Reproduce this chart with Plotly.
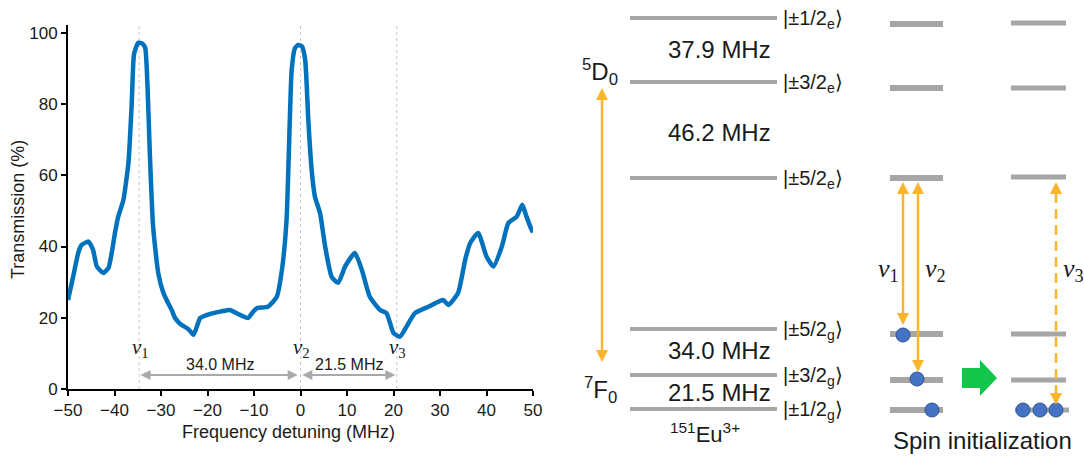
import plotly.graph_objects as go

W, H = 1084, 459

# ---------------- data (left panel) ----------------
freq = [-50, -48.9, -47.8, -47.1, -45.6, -44.6, -43.8, -42.4, -41.3, -40.6, -39.9, -39.2,
        -38.1, -37.0, -36.3, -35.8, -34.9, -34.0, -33.4, -32.9, -32.4, -31.7, -30.6, -29.5,
        -28.8, -27.7, -27.0, -25.9, -24.1, -23.0, -21.6, -20.5, -18.8, -17.0, -15.2, -13.0,
        -11.3, -10.3, -9.4, -7.0, -5.1, -4.0, -3.0, -2.3, -1.9, -1.2, -0.5, 0.3, 1.0, 1.7,
        2.4, 3.1, 4.2, 5.3, 6.7, 8.1, 9.6, 11.7, 13.2, 14.9, 17.1, 18.5, 20.0, 21.4, 22.8,
        24.6, 27.5, 30.7, 31.8, 33.9, 35.4, 36.5, 38.2, 40.0, 41.5, 43.3, 44.7, 46.5, 47.7,
        48.6, 49.7, 50.0]
trans = [25.0, 31.5, 38.2, 40.4, 41.4, 39.0, 34.4, 32.6, 34.0, 38.2, 43.8, 48.4,
         53.0, 63.5, 80.0, 94.0, 97.2, 97.0, 95.8, 85.0, 66.0, 45.6, 32.6, 27.0,
         25.0, 22.2, 20.0, 18.3, 16.8, 15.2, 19.9, 20.6, 21.3, 21.8, 22.2, 20.8,
         19.9, 21.5, 22.7, 23.1, 25.9, 33.4, 47.5, 75.6, 89.6, 95.7, 96.6, 96.2, 92.5, 75.0,
         61.5, 54.0, 49.4, 40.0, 31.5, 29.8, 34.4, 38.2, 33.4, 25.9, 22.2, 21.3, 15.7, 14.7, 17.5,
         21.3, 23.1, 25.0, 23.6, 27.0, 36.2, 41.0, 43.8, 37.2, 34.4, 40.0, 46.6, 48.4, 51.7,
         48.4, 44.7, 44.0]
x_ticks = [-50, -40, -30, -20, -10, 0, 10, 20, 30, 40, 50]
x_ticktext = ["\u221250", "\u221240", "\u221230", "\u221220", "\u221210", "0", "10", "20", "30", "40", "50"]
y_ticks = [0, 20, 40, 60, 80, 100]
nu_pos = [-34.7, 0.0, 20.7]
nu_names = ["1", "2", "3"]
gap_labels = ["34.0 MHz", "21.5 MHz"]

# ---------------- diagram content (right panel) ----------------
excited_kets = ["\u00b11/2", "\u00b13/2", "\u00b15/2"]
ground_kets = ["\u00b15/2", "\u00b13/2", "\u00b11/2"]
excited_gaps = ["37.9 MHz", "46.2 MHz"]
ground_gaps = ["34.0 MHz", "21.5 MHz"]

FONT = "Liberation Sans, Arial, Helvetica, sans-serif"
SERIF = "Liberation Serif, Times New Roman, serif"
BLUE = "#0072BD"
ORANGE = "#FAB52C"
GRAY = "#A6A6A6"
TXT = "#1a1a1a"

# layout geometry (pixels)
px_left, px_right = 68, 533
py_top, py_zero = 25, 389
y_max = 102.2
sx = (px_right - px_left) / 100.0
sy = (py_zero - 33) / 100.0

fig = go.Figure()
fig.add_trace(go.Scatter(x=freq, y=trans, mode="lines", xaxis="x", yaxis="y",
                         line=dict(color=BLUE, width=4.5, shape="spline", smoothing=0.5),
                         hoverinfo="skip", showlegend=False))

shapes = []
annos = []

# dashed guide lines
for p in nu_pos:
    shapes.append(dict(type="line", xref="x", yref="y", x0=p, x1=p, y0=0, y1=y_max,
                       line=dict(color="#C8C8C8", width=1, dash="3px,3px"), layer="below"))


def tri(xref, yref, tipx, tipy, dx, dy, hw_x, hw_y, color):
    # triangle with tip at (tipx, tipy), base center at tip+(dx,dy)
    bx, by = tipx + dx, tipy + dy
    if dx == 0:
        path = f"M {tipx},{tipy} L {bx - hw_x},{by} L {bx + hw_x},{by} Z"
    else:
        path = f"M {tipx},{tipy} L {bx},{by - hw_y} L {bx},{by + hw_y} Z"
    return dict(type="path", xref=xref, yref=yref, path=path, fillcolor=color,
                line=dict(width=0))


# gray horizontal double arrows in the spectrum
arr_y = 3.9
hl = 10 / sx
hwy = 5 / sy
for a, b in [(nu_pos[0] + 0.3, nu_pos[1] - 0.6), (nu_pos[1] + 0.4, nu_pos[2] - 0.3)]:
    shapes.append(dict(type="line", xref="x", yref="y", x0=a + hl * 0.8, x1=b - hl * 0.8,
                       y0=arr_y, y1=arr_y, line=dict(color="#A9A9A9", width=2)))
    shapes.append(tri("x", "y", a, arr_y, hl, 0, 0, hwy, "#A9A9A9"))
    shapes.append(tri("x", "y", b, arr_y, -hl, 0, 0, hwy, "#A9A9A9"))

for p, n in zip(nu_pos, nu_names):
    annos.append(dict(xref="x", yref="y", x=p + 0.2, y=11.5, text=f"<i>\u03bd</i><sub>{n}</sub>",
                      showarrow=False, xanchor="center", yanchor="middle",
                      font=dict(family=SERIF, size=21, color=TXT)))
for (a, b), t in zip([(nu_pos[0], nu_pos[1]), (nu_pos[1], nu_pos[2])], gap_labels):
    annos.append(dict(xref="x", yref="y", x=(a + b) / 2, y=7.0, text=t, showarrow=False,
                      xanchor="center", yanchor="middle", font=dict(family=FONT, size=16, color=TXT)))

# axis titles
annos.append(dict(xref="paper", yref="paper", x=17.5 / W, y=1 - 209.5 / H, text="Transmission (%)",
                  textangle=-90, showarrow=False, xanchor="center", yanchor="middle",
                  font=dict(family=FONT, size=18, color=TXT)))
annos.append(dict(xref="paper", yref="paper", x=288.5 / W, y=1 - 432 / H, text="Frequency detuning (MHz)",
                  showarrow=False, xanchor="center", yanchor="middle",
                  font=dict(family=FONT, size=18, color=TXT)))

# ---------------- energy-level diagram (pixel space axes x2/y2) ----------------
lvl_main = [18, 82, 178, 329, 375, 409]
lvl_mid = [24, 88, 178, 334, 380, 410]
lvl_right = [23, 88, 177, 334, 380, 410]
for y in lvl_main:
    shapes.append(dict(type="line", xref="x2", yref="y2", x0=630, x1=777, y0=y, y1=y,
                       line=dict(color=GRAY, width=4), layer="below"))
for y in lvl_mid:
    shapes.append(dict(type="line", xref="x2", yref="y2", x0=890, x1=943, y0=y, y1=y,
                       line=dict(color=GRAY, width=6), layer="below"))
for i, y in enumerate(lvl_right):
    x0, x1 = (1015, 1069) if i == 5 else (1011, 1066)
    shapes.append(dict(type="line", xref="x2", yref="y2", x0=x0, x1=x1, y0=y, y1=y,
                       line=dict(color=GRAY, width=5), layer="below"))

kets = [(k, "e") for k in excited_kets] + [(k, "g") for k in ground_kets]
for (k, s), y in zip(kets, lvl_main):
    annos.append(dict(xref="x2", yref="y2", x=781, y=y + 1, text=f"|{k}<sub>{s}</sub>\u27e9",
                      showarrow=False, xanchor="left", yanchor="middle",
                      font=dict(family=FONT, size=20, color=TXT)))

for t, y in zip(excited_gaps + ground_gaps, [49, 132, 350, 392]):
    annos.append(dict(xref="x2", yref="y2", x=719, y=y, text=t, showarrow=False,
                      xanchor="center", yanchor="middle", font=dict(family=FONT, size=24, color=TXT)))

annos.append(dict(xref="x2", yref="y2", x=600, y=72, text="<sup>5</sup>D<sub>0</sub>", showarrow=False,
                  xanchor="center", yanchor="middle", font=dict(family=FONT, size=24, color=TXT)))
annos.append(dict(xref="x2", yref="y2", x=600, y=390, text="<sup>7</sup>F<sub>0</sub>", showarrow=False,
                  xanchor="center", yanchor="middle", font=dict(family=FONT, size=24, color=TXT)))
annos.append(dict(xref="x2", yref="y2", x=705, y=433, text="<sup>151</sup>Eu<sup>3+</sup>", showarrow=False,
                  xanchor="center", yanchor="middle", font=dict(family=FONT, size=22, color=TXT)))
annos.append(dict(xref="x2", yref="y2", x=982, y=440, text="Spin initialization", showarrow=False,
                  xanchor="center", yanchor="middle", font=dict(family=FONT, size=24, color=TXT)))
for x, n in zip([888, 935, 1073], nu_names):
    annos.append(dict(xref="x2", yref="y2", x=x, y=270, text=f"<i>\u03bd</i><sub>{n}</sub>", showarrow=False,
                      xanchor="center", yanchor="middle", font=dict(family=SERIF, size=26, color=TXT)))


def vline_arrow(x, ytop, ybot, head_top, head_bot, dash=None, width=2.5, hl=12, hw=6):
    y0 = ytop + (hl - 1 if head_top else 0)
    y1 = ybot - (hl - 1 if head_bot else 0)
    ln = dict(color=ORANGE, width=width)
    if dash:
        ln["dash"] = dash
    shapes.append(dict(type="line", xref="x2", yref="y2", x0=x, x1=x, y0=y0, y1=y1, line=ln))
    if head_top:
        shapes.append(tri("x2", "y2", x, ytop, 0, hl, hw, 0, ORANGE))
    if head_bot:
        shapes.append(tri("x2", "y2", x, ybot, 0, -hl, hw, 0, ORANGE))


vline_arrow(602, 88, 362, True, True)
vline_arrow(903, 182, 325, True, True)
vline_arrow(918, 182, 372, True, True)
vline_arrow(1056, 182, 405, True, True, dash="10px,6px")

# green block arrow
shapes.append(dict(type="path", xref="x2", yref="y2",
                   path="M 962,368 L 980,368 L 980,360 L 997,378 L 980,396 L 980,388 L 962,388 Z",
                   fillcolor="#12C64B", line=dict(width=0)))

# population dots
dot_x = [903, 917, 932, 1023, 1040, 1056]
dot_y = [335, 379, 410, 410, 410, 410]
fig.add_trace(go.Scatter(x=dot_x, y=dot_y, mode="markers", xaxis="x2", yaxis="y2",
                         marker=dict(size=14, color="#4472C4", line=dict(color="#2F528F", width=1)),
                         hoverinfo="skip", showlegend=False))

axis_common = dict(showgrid=False, zeroline=False, showline=True, linecolor="black", linewidth=2,
                   ticks="outside", ticklen=5, tickwidth=1.5, tickcolor="black", automargin=False,
                   tickfont=dict(family=FONT, size=17, color=TXT))

fig.update_layout(
    width=W, height=H, margin=dict(l=0, r=0, t=0, b=0, pad=0, autoexpand=False),
    paper_bgcolor="white", plot_bgcolor="rgba(0,0,0,0)",
    showlegend=False,
    xaxis=dict(domain=[px_left / W, px_right / W], range=[-50, 50], anchor="y",
               tickvals=x_ticks, ticktext=x_ticktext, **axis_common),
    yaxis=dict(domain=[(H - py_zero) / H, (H - py_top) / H], range=[0, y_max], anchor="x",
               tickvals=y_ticks, **axis_common),
    xaxis2=dict(domain=[0, 1], range=[0, W], anchor="y2", visible=False, fixedrange=True,
                automargin=False),
    yaxis2=dict(domain=[0, 1], range=[H, 0], anchor="x2", visible=False, fixedrange=True,
                automargin=False),
    shapes=shapes, annotations=annos,
)

fig.write_html("out.html")
